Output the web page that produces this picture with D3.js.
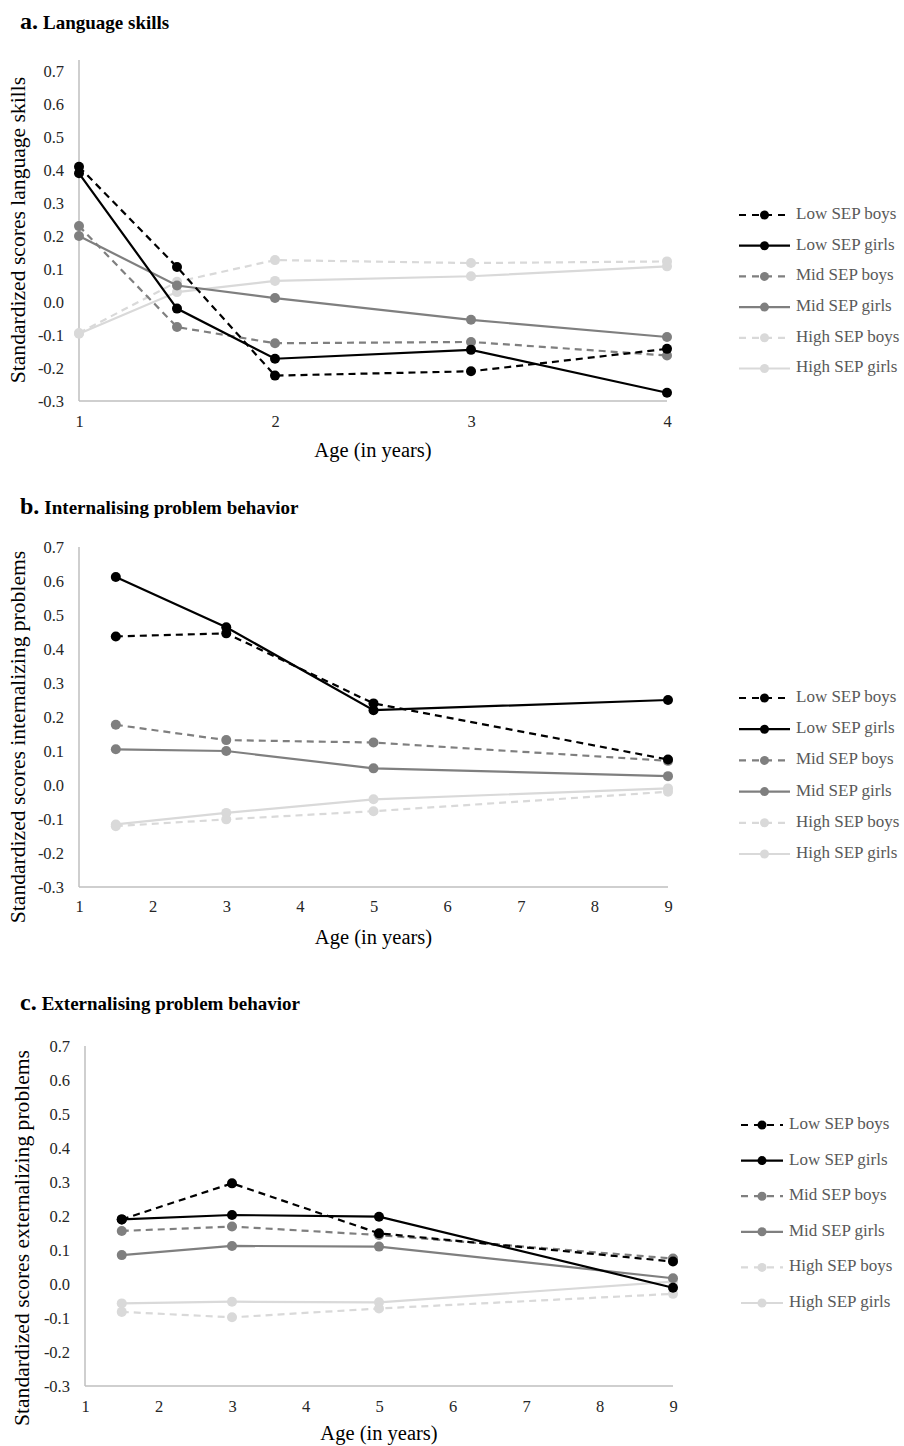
<!DOCTYPE html>
<html>
<head>
<meta charset="utf-8">
<script src="https://cdn.jsdelivr.net/npm/d3@7"></script>
<style>
  html, body { margin: 0; padding: 0; background: #fff; }
  text { font-family: "Liberation Serif", "Times New Roman", serif; }
</style>
</head>
<body>
<script>
// ---------- DATA ----------
const seriesNames = ["Low SEP boys", "Low SEP girls", "Mid SEP boys", "Mid SEP girls", "High SEP boys", "High SEP girls"];

// a. Language skills
const agesLanguage = [1, 1.5, 2, 3, 4];
const langLowBoys   = [0.41, 0.106, -0.223, -0.21, -0.142];
const langLowGirls  = [0.39, -0.02, -0.172, -0.145, -0.275];
const langMidBoys   = [0.23, -0.076, -0.125, -0.121, -0.162];
const langMidGirls  = [0.20, 0.05, 0.012, -0.054, -0.106];
const langHighBoys  = [-0.094, 0.061, 0.127, 0.118, 0.123];
const langHighGirls = [-0.096, 0.03, 0.064, 0.078, 0.108];

// b. Internalising problem behavior
const agesInternal = [1.5, 3, 5, 9];
const intLowBoys   = [0.437, 0.446, 0.24, 0.075];
const intLowGirls  = [0.612, 0.464, 0.22, 0.25];
const intMidBoys   = [0.177, 0.132, 0.125, 0.071];
const intMidGirls  = [0.105, 0.10, 0.049, 0.026];
const intHighBoys  = [-0.121, -0.101, -0.077, -0.02];
const intHighGirls = [-0.116, -0.082, -0.042, -0.01];

// c. Externalising problem behavior
const agesExternal = [1.5, 3, 5, 9];
const extLowBoys   = [0.19, 0.296, 0.149, 0.066];
const extLowGirls  = [0.19, 0.203, 0.198, -0.011];
const extMidBoys   = [0.156, 0.169, 0.144, 0.075];
const extMidGirls  = [0.085, 0.112, 0.11, 0.017];
const extHighBoys  = [-0.082, -0.098, -0.072, -0.029];
const extHighGirls = [-0.057, -0.052, -0.054, 0.007];

// tick labels
const yTickValues = [-0.3, -0.2, -0.1, 0.0, 0.1, 0.2, 0.3, 0.4, 0.5, 0.6, 0.7];
const yTickLabels = ["-0.3", "-0.2", "-0.1", "0.0", "0.1", "0.2", "0.3", "0.4", "0.5", "0.6", "0.7"];
const xTicksLanguage = [1, 2, 3, 4];
const xTicksProblems = [1, 2, 3, 4, 5, 6, 7, 8, 9];

const panelLetters = ["a.", "b.", "c."];
const panelTitles = ["Language skills", "Internalising problem behavior", "Externalising problem behavior"];
const yAxisTitles = ["Standardized scores language skills", "Standardized scores internalizing problems", "Standardized scores externalizing problems"];
const xAxisTitle = "Age (in years)";

// ---------- STYLE / LAYOUT ----------
const colors = ["#000000", "#000000", "#7f7f7f", "#7f7f7f", "#d9d9d9", "#d9d9d9"];
const dashed = [true, false, true, false, true, false];

const panels = [
  { ages: agesLanguage, xDomain: [1, 4], xTicks: xTicksLanguage,
    series: [langLowBoys, langLowGirls, langMidBoys, langMidGirls, langHighBoys, langHighGirls],
    x0: 79, x1: 667, yTop: 71, yBot: 401, axisTop: 60, titleY: 29, titleX: 20,
    tickY: 423, ageY: 452, ylabX: 20, ylabY: 230,
    legX0: 739, legX1: 790, legTextX: 796, legY0: 215, legStep: 30.7 },
  { ages: agesInternal, xDomain: [1, 9], xTicks: xTicksProblems,
    series: [intLowBoys, intLowGirls, intMidBoys, intMidGirls, intHighBoys, intHighGirls],
    x0: 79, x1: 668, yTop: 547, yBot: 887, axisTop: 547, titleY: 514, titleX: 20,
    tickY: 908, ageY: 939, ylabX: 20, ylabY: 737,
    legX0: 739, legX1: 790, legTextX: 796, legY0: 698, legStep: 31.2 },
  { ages: agesExternal, xDomain: [1, 9], xTicks: xTicksProblems,
    series: [extLowBoys, extLowGirls, extMidBoys, extMidGirls, extHighBoys, extHighGirls],
    x0: 85, x1: 673, yTop: 1046, yBot: 1386, axisTop: 1046, titleY: 1010, titleX: 20,
    tickY: 1408, ageY: 1435, ylabX: 24, ylabY: 1238,
    legX0: 741, legX1: 783, legTextX: 789, legY0: 1125, legStep: 35.6 }
];

const svg = d3.select("body").append("svg").attr("width", 904).attr("height", 1446);

panels.forEach((p, pi) => {
  const g = svg.append("g");
  const x = d3.scaleLinear().domain(p.xDomain).range([p.x0, p.x1]);
  const y = d3.scaleLinear().domain([-0.3, 0.7]).range([p.yBot, p.yTop]);

  // Title
  const t = g.append("text").attr("x", p.titleX).attr("y", p.titleY).attr("font-weight", "bold").attr("fill", "#000");
  t.append("tspan").attr("font-size", 24).text(panelLetters[pi]);
  t.append("tspan").attr("font-size", 19).attr("dx", 5).text(panelTitles[pi]);

  // Axes via d3 axis generators (domain hidden, lines drawn as axis rules)
  const yAxis = d3.axisLeft(y).tickValues(yTickValues).tickSize(0).tickPadding(15)
    .tickFormat((d, i) => yTickLabels[i]);
  const ya = g.append("g").attr("transform", `translate(${p.x0},0)`).call(yAxis);
  ya.select(".domain").remove();
  ya.selectAll("text").attr("font-size", 16.5).attr("fill", "#262626")
    .attr("font-family", "Liberation Serif, Times New Roman, serif");

  const xAxis = d3.axisBottom(x).tickValues(p.xTicks).tickSize(0).tickFormat(d3.format("d"));
  const xa = g.append("g").attr("transform", `translate(0,${p.tickY})`).call(xAxis);
  xa.select(".domain").remove();
  xa.selectAll("text").attr("font-size", 16.5).attr("fill", "#262626").attr("dy", null)
    .attr("y", 0).attr("dominant-baseline", "middle")
    .attr("font-family", "Liberation Serif, Times New Roman, serif");

  g.append("line").attr("x1", p.x0).attr("x2", p.x0).attr("y1", p.axisTop).attr("y2", p.yBot)
    .attr("stroke", "#bfbfbf").attr("stroke-width", 1.5);
  g.append("line").attr("x1", p.x0).attr("x2", p.x1).attr("y1", p.yBot).attr("y2", p.yBot)
    .attr("stroke", "#bfbfbf").attr("stroke-width", 1.5);

  // Axis titles
  g.append("text").attr("x", (p.x0 + p.x1) / 2).attr("y", p.ageY).attr("text-anchor", "middle")
    .attr("dominant-baseline", "middle").attr("font-size", 20.5).attr("fill", "#000").text(xAxisTitle);
  g.append("text").attr("transform", `translate(${p.ylabX},${p.ylabY}) rotate(-90)`)
    .attr("text-anchor", "middle").attr("dominant-baseline", "middle")
    .attr("font-size", 21.6).attr("fill", "#000").text(yAxisTitles[pi]);

  // Series (draw light first so dark on top)
  const order = [5, 4, 3, 2, 1, 0];
  const line = d3.line().x(d => x(d[0])).y(d => y(d[1]));
  order.forEach(si => {
    const pts = p.ages.map((a, i) => [a, p.series[si][i]]);
    g.append("path").datum(pts).attr("d", line).attr("fill", "none")
      .attr("stroke", colors[si]).attr("stroke-width", 2.2)
      .attr("stroke-dasharray", dashed[si] ? "7,5" : null);
    g.selectAll(null).data(pts).enter().append("circle")
      .attr("cx", d => x(d[0])).attr("cy", d => y(d[1])).attr("r", 5).attr("fill", colors[si]);
  });

  // Legend
  seriesNames.forEach((name, si) => {
    const ly = p.legY0 + si * p.legStep;
    const lg = g.append("g");
    lg.append("line").attr("x1", p.legX0).attr("x2", p.legX1).attr("y1", ly).attr("y2", ly)
      .attr("stroke", colors[si]).attr("stroke-width", 2.2)
      .attr("stroke-dasharray", dashed[si] ? "7,6" : null);
    lg.append("circle").attr("cx", (p.legX0 + p.legX1) / 2).attr("cy", ly).attr("r", 4.5).attr("fill", colors[si]);
    lg.append("text").attr("x", p.legTextX).attr("y", ly).attr("dominant-baseline", "middle")
      .attr("font-size", 17).attr("fill", "#595959").text(name);
  });
});
</script>
</body>
</html>
